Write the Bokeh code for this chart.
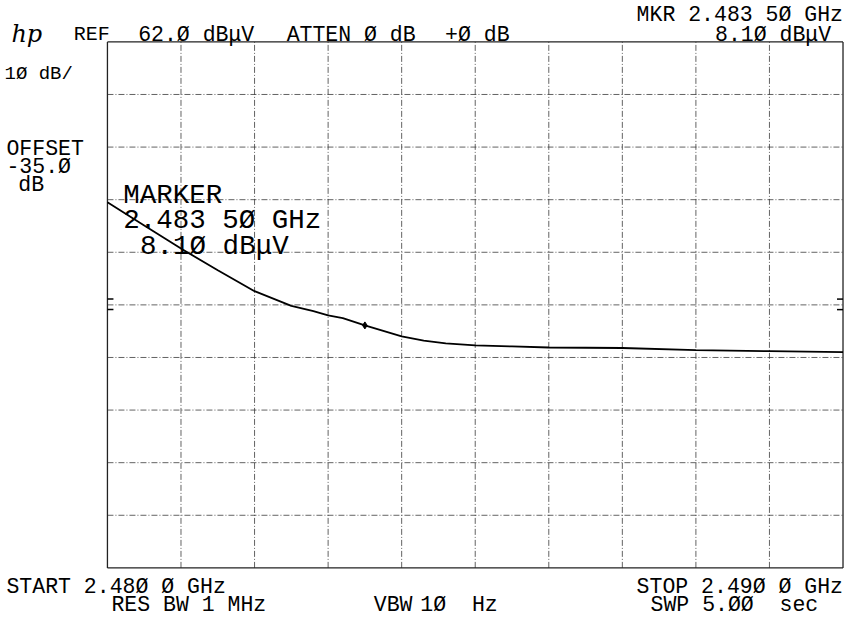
from bokeh.plotting import figure
from bokeh.models import Label, Range1d
from bokeh.embed import file_html
from bokeh.resources import INLINE

# ---- data ----
freq_ghz = [2.4800, 2.4805, 2.4810, 2.4815, 2.4820, 2.4825, 2.4828, 2.4830,
            2.4832, 2.4835, 2.4840, 2.4843, 2.4846, 2.4850, 2.4855, 2.4860,
            2.4870, 2.4880, 2.4890, 2.4900]
level_dbuv = [31.5, 27.1, 22.7, 18.6, 14.6, 11.8, 10.8, 10.0,
              9.5, 8.1, 6.0, 5.2, 4.7, 4.3, 4.1, 3.9,
              3.8, 3.4, 3.2, 3.0]
marker_freq = [2.4835]
marker_level = [8.10]
x_ticks = [2.480, 2.481, 2.482, 2.483, 2.484, 2.485, 2.486, 2.487, 2.488, 2.489, 2.490]
y_ticks = [-38, -28, -18, -8, 2, 12, 22, 32, 42, 52, 62]
display_marks = [13.1, 11.1]

X0, X1 = 2.480, 2.490
Y0, Y1 = -38.0, 62.0

# canvas fits the window (859x628) minus the 8px page margin
W, H = 851, 620


def tx(px):
    return 2 + (px - 8) * 0.99


def ty(py):
    return 1 + (py - 8) * 0.985


# plot box in canvas pixels
BL, BR, BT, BB = tx(114), tx(857), ty(49), ty(583)
sx = (X1 - X0) / (BR - BL)
sy = (Y1 - Y0) / (BB - BT)

p = figure(width=W, height=H, output_backend="svg", toolbar_location=None,
           x_range=Range1d(X0 - BL * sx, X1 + (W - BR) * sx),
           y_range=Range1d(Y0 - (H - BB) * sy, Y1 + BT * sy),
           min_border=0)
p.axis.visible = False
p.grid.visible = False
p.background_fill_color = "white"
p.border_fill_color = "white"
p.outline_line_color = None

# grid (inner lines dashed)
inner_x = x_ticks[1:-1]
inner_y = y_ticks[1:-1]
p.segment(x0=inner_x, y0=[Y0] * len(inner_x), x1=inner_x, y1=[Y1] * len(inner_x),
          line_color="#3c3c3c", line_width=1, line_dash="6 2 1 2", line_alpha=0.8)
p.segment(x0=[X0] * len(inner_y), y0=inner_y, x1=[X1] * len(inner_y), y1=inner_y,
          line_color="#3c3c3c", line_width=1, line_dash="6 2 1 2", line_alpha=0.8)
# box outline
p.segment(x0=[X0, X1, X0, X0], y0=[Y0, Y0, Y0, Y1], x1=[X0, X1, X1, X1], y1=[Y1, Y1, Y0, Y1],
          line_color="#222222", line_width=1.3)

# display-line marks at both edges
for lvl in display_marks:
    p.segment(x0=[X0], y0=[lvl], x1=[X0 + 6 * sx], y1=[lvl], line_color="black", line_width=1.5)
    p.segment(x0=[X1 - 6 * sx], y0=[lvl], x1=[X1], y1=[lvl], line_color="black", line_width=1.5)

p.line(freq_ghz, level_dbuv, line_color="black", line_width=1.8)
p.scatter(marker_freq, marker_level, marker="diamond", size=7, color="black")


def dx(px):
    return X0 + (tx(px) - BL) * sx


def dy(py):
    return Y1 - (ty(py) - BT) * sy


def lab(text, px, py, size="21.5px", align="left", font="Liberation Mono", style="normal"):
    p.add_layout(Label(x=dx(px), y=dy(py), text=text, text_font=font,
                       text_font_size=size, text_align=align,
                       text_baseline="alphabetic", text_color="black",
                       text_font_style=style))


NB = "\u00a0"
lab("hp", 17, 41, size="24px", font="DejaVu Serif", style="italic")
lab("REF", 80, 42, size="20px")
lab("62.Ø dBμV", 145, 42)
lab("ATTEN Ø dB", 295, 42)
lab("+Ø dB", 455, 42)
lab("MKR 2.483 5Ø GHz", 857, 22, align="right")
lab("8.1Ø dBμV", 845, 42, align="right")
lab("1Ø dB/", 10, 82, size="19px")
lab("OFFSET", 12, 158)
lab("-35.Ø", 12, 176)
lab("dB", 24, 194)
lab("MARKER", 130, 205, size="27.5px")
lab("2.483 5Ø GHz", 130, 230, size="27.5px")
lab("8.1Ø dBμV", 147, 257, size="27.5px")
lab("START 2.48Ø Ø GHz", 12, 602)
lab("RES BW 1 MHz", 118, 621)
lab("VBW", 383, 621)
lab("1Ø" + NB + NB + "Hz", 430, 621)
lab("STOP 2.49Ø Ø GHz", 857, 602, align="right")
lab("SWP 5.ØØ" + NB + NB + "sec", 832, 621, align="right")

open("out.html", "w").write(file_html(p, INLINE))
